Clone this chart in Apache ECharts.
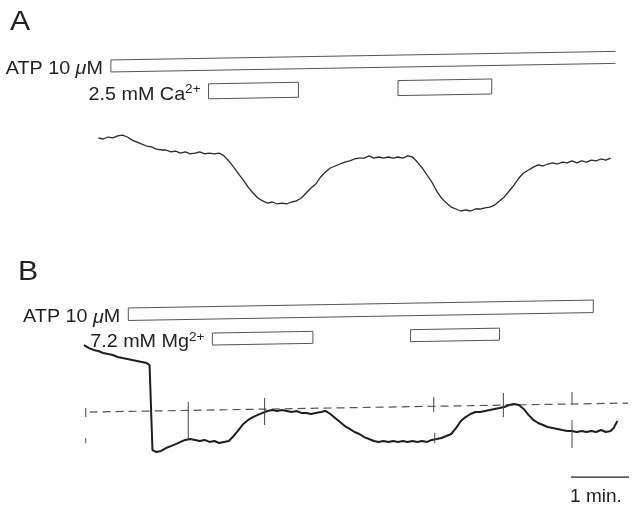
<!DOCTYPE html>
<html>
<head>
<meta charset="utf-8">
<script src="https://cdn.jsdelivr.net/npm/echarts@6/dist/echarts.min.js"></script>
<style>
html,body{margin:0;padding:0;background:#ffffff;}
#chart{width:638px;height:506px;}
</style>
</head>
<body>
<div id="chart"></div>
<script>
// ---------- DATA (time in s, response in arbitrary units) ----------
const panelLetters = ['A', 'B'];

// Panel A trace
const tA = [50,55,60,65,70,75,80,85,90,95,100,105,110,115,120,125,130,135,140,145,150,155,160,165,170,175,180,185,190,195,200,205,210,215,220,225,230,235,240,245,250,255,260,265,270,275,280,285,290,295,300,305,310,315,320,325,330,335,340,345,350,355,360,365,370,375,380,385,390,395,400,405,410,415,420,425,430,435,440,445,450,455,460,465,470,475,480,485,490,495,500,505,510,515,520,525,530,535,540,545,550,555,560,565,570,575,580];
const vA = [45.6,45.0,46.1,45.6,46.7,47.2,46.1,44.4,43.3,42.2,41.1,40.6,39.4,38.9,38.9,37.8,38.3,37.2,37.8,36.7,37.2,37.8,36.7,37.2,36.7,37.2,35.6,32.8,29.4,25.6,22.2,18.3,15.0,12.2,10.6,9.4,10.0,8.9,9.4,8.9,10.0,10.6,12.2,15.0,17.8,20.0,23.9,26.7,28.9,30.0,31.1,32.2,32.8,33.9,34.4,34.4,35.6,34.4,35.0,34.4,35.0,34.4,35.0,34.4,35.6,35.0,32.2,28.9,25.0,21.1,16.1,12.2,9.4,7.2,6.1,5.0,5.6,5.0,6.1,6.1,6.7,7.2,8.3,10.6,12.8,16.1,19.4,23.3,26.1,27.8,29.4,30.6,30.0,31.1,31.7,31.1,32.2,31.7,32.8,31.7,32.8,32.2,33.3,32.8,33.9,33.3,34.4];

// Panel B trace
const tB = [35,40,45,50,55,60,65,70,75,80,85,90,95,100,103,106,110,115,120,125,130,135,140,145,150,155,160,165,170,175,180,185,190,195,200,205,210,215,220,225,230,235,240,245,250,255,260,265,270,275,280,285,290,295,300,305,310,315,320,325,330,335,340,345,350,355,360,365,370,375,380,385,390,395,400,405,410,415,420,425,430,435,440,445,450,455,460,465,470,475,480,485,490,495,500,505,510,515,520,525,530,535,540,545,550,555,560,565,570,575,580,583,587];
const vB = [69.4,67.8,66.7,66.1,65.0,64.4,63.9,62.8,62.2,61.7,61.1,60.6,60.0,59.4,58.3,11.1,10.0,10.6,12.2,13.3,14.4,15.6,16.7,17.2,16.7,16.1,16.7,15.6,16.1,15.0,15.6,16.1,18.9,22.2,25.6,27.8,29.4,30.6,31.7,32.8,33.3,32.8,33.3,32.8,32.2,32.8,31.7,31.7,31.1,31.7,32.2,32.8,31.1,28.9,26.7,24.4,22.8,21.1,20.0,18.3,17.2,16.1,15.6,16.1,15.6,16.1,15.6,16.1,15.6,16.1,15.6,16.1,15.6,16.7,17.2,17.8,18.9,20.0,23.3,27.2,29.4,31.1,32.2,32.2,32.8,33.3,33.9,34.4,35.0,36.1,36.7,36.1,33.9,30.6,27.8,26.1,25.0,23.9,23.3,22.8,22.2,21.7,21.7,21.1,21.7,21.1,21.7,21.1,22.2,21.1,21.7,23.3,27.2];

// Drug application intervals (s)
const atpA = [63, 585];
const caA = [[164, 257], [360, 457]];
const atpB = [81, 562];
const mgB = [[168, 272], [373, 465]];

// Labels of the application bars
const labelsA = ['{n|ATP 10 }{mu|\u03bc}{n|M}', '{n|2.5 mM Ca}{sup|2+}'];
const labelsB = ['{n|ATP 10 }{mu|\u03bc}{n|M}', '{n|7.2 mM Mg}{sup|2+}'];

// Panel B baseline (dashed) and event markers [t, v from, v to]
const baseT = [41, 598];
const baseV = [32.2, 37.2];
const marksB = [[37,34.4,29.4],[37,17.8,15.0],[143,37.8,17.2],[222,40.0,25.0],[397,40.6,32.2],[398,20.6,15.0],[469,42.8,29.4],[540,43.3,36.1],[540,27.8,12.2]];

// Scale bar: 1 min
const scaleBar = [539, 599];
const scaleLabel = '1 min.';

// ---------- LAYOUT / STYLE ----------
const FONT = '"Liberation Sans", Arial, Helvetica, sans-serif';
const INK = '#222';
const SKEW = 0.017;
const layoutA = [{dy: 21, h: 12, open: true}, {dy: 46.5, h: 15}];
const layoutB = [{dy: 19.3, h: 12.5}, {dy: 45.8, h: 12}];
const rich = {
  n: {fontSize: 19, fontFamily: FONT, fill: INK, lineHeight: 21, verticalAlign: 'bottom'},
  mu: {fontSize: 19, fontFamily: FONT, fontStyle: 'italic', fill: INK, lineHeight: 21, verticalAlign: 'bottom'},
  sup: {fontSize: 13, fontFamily: FONT, fill: INK, lineHeight: 11, verticalAlign: 'top'}
};

function zip(t, v) { return t.map((x, i) => [x, v[i]]); }
function barData(atp, ions) {
  return [[atp[0], atp[1], 0, 0]].concat(ions.map((d, i) => [d[0], d[1], 1, i === 0 ? 1 : -1]));
}

function barRenderer(layout, labels) {
  return function (params, api) {
    const s = api.value(0), e = api.value(1), row = api.value(2), lab = api.value(3);
    const cs = params.coordSys;
    const x1 = api.coord([s, 0])[0], x2 = api.coord([e, 0])[0];
    const L = layout[row];
    const yt = x => cs.y + L.dy - SKEW * (x - cs.x);
    let shape;
    if (L.open) {
      shape = {type: 'polyline', shape: {points: [[x2, yt(x2)], [x1, yt(x1)], [x1, yt(x1) + L.h], [x2, yt(x2) + L.h]]},
               style: {fill: null, stroke: '#555', lineWidth: 1}};
    } else {
      shape = {type: 'polygon', shape: {points: [[x1, yt(x1)], [x2, yt(x2)], [x2, yt(x2) + L.h], [x1, yt(x1) + L.h]]},
               style: {fill: '#fff', stroke: '#555', lineWidth: 1}};
    }
    const children = [shape];
    if (lab >= 0) {
      children.push({type: 'text', x: x1 - 8, y: yt(x1) + L.h / 2 + 2, scaleX: 1.04,
        style: {text: labels[lab], rich: rich, align: 'right', verticalAlign: 'middle', fill: INK, fontSize: 19, fontFamily: FONT}});
    }
    return {type: 'group', children: children};
  };
}

const chart = echarts.init(document.getElementById('chart'), null, {renderer: 'canvas'});
const axisOff = {show: false};
chart.setOption({
  animation: false,
  backgroundColor: '#ffffff',
  grid: [
    {left: 50, right: 8, top: 40, height: 180},
    {left: 50, right: 8, top: 290, height: 180}
  ],
  xAxis: [
    Object.assign({type: 'value', min: 0, max: 600, gridIndex: 0}, axisOff),
    Object.assign({type: 'value', min: 0, max: 600, gridIndex: 1}, axisOff)
  ],
  yAxis: [
    Object.assign({type: 'value', min: 0, max: 100, gridIndex: 0}, axisOff),
    Object.assign({type: 'value', min: 0, max: 100, gridIndex: 1}, axisOff)
  ],
  graphic: [
    {type: 'text', left: 10, top: 9, scaleX: 1.12, style: {text: panelLetters[0], fontSize: 27, fontFamily: FONT, fill: INK}},
    {type: 'text', left: 18, top: 259, scaleX: 1.12, style: {text: panelLetters[1], fontSize: 27, fontFamily: FONT, fill: INK}}
  ],
  series: [
    {type: 'line', xAxisIndex: 0, yAxisIndex: 0, data: zip(tA, vA), showSymbol: false, symbol: 'none',
     lineStyle: {color: '#2a2a2a', width: 1.3}, z: 3},
    {type: 'line', xAxisIndex: 1, yAxisIndex: 1, data: zip(tB, vB), showSymbol: false, symbol: 'none',
     lineStyle: {color: '#1e1e1e', width: 2}, z: 3},
    {type: 'line', xAxisIndex: 1, yAxisIndex: 1, data: zip(baseT, baseV), showSymbol: false, symbol: 'none',
     lineStyle: {color: '#555', width: 1.2, type: [8, 5]}, z: 2},
    {type: 'custom', xAxisIndex: 0, yAxisIndex: 0, clip: false, data: barData(atpA, caA),
     renderItem: barRenderer(layoutA, labelsA)},
    {type: 'custom', xAxisIndex: 1, yAxisIndex: 1, clip: false, data: barData(atpB, mgB),
     renderItem: barRenderer(layoutB, labelsB)},
    {type: 'custom', xAxisIndex: 1, yAxisIndex: 1, clip: false, data: marksB, z: 4,
     renderItem: function (params, api) {
       const p1 = api.coord([api.value(0), api.value(1)]);
       const p2 = api.coord([api.value(0), api.value(2)]);
       return {type: 'line', shape: {x1: p1[0], y1: p1[1], x2: p2[0], y2: p2[1]}, style: {stroke: '#444', lineWidth: 1}};
     }},
    {type: 'custom', xAxisIndex: 1, yAxisIndex: 1, clip: false, data: [[scaleBar[0], scaleBar[1], -4]],
     renderItem: function (params, api) {
       const p1 = api.coord([api.value(0), api.value(2)]);
       const p2 = api.coord([api.value(1), api.value(2)]);
       return {type: 'group', children: [
         {type: 'line', shape: {x1: p1[0], y1: p1[1], x2: p2[0], y2: p2[1]}, style: {stroke: INK, lineWidth: 1.3}},
         {type: 'text', x: p1[0] - 1, y: p1[1] + 10, style: {text: scaleLabel, fontSize: 19, fontFamily: FONT, fill: INK, align: 'left', verticalAlign: 'top'}}
       ]};
     }}
  ]
});
</script>
</body>
</html>
